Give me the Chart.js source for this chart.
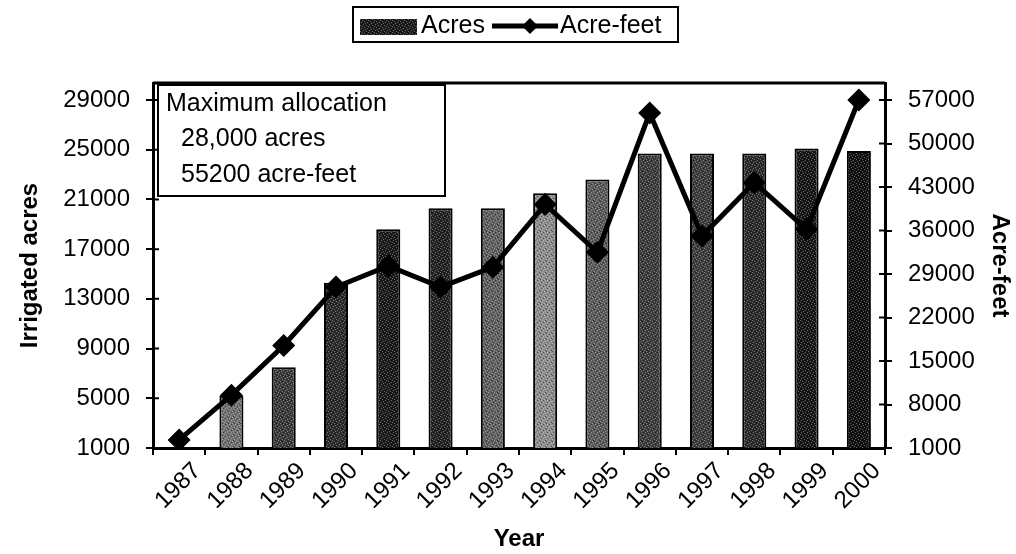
<!DOCTYPE html>
<html>
<head>
<meta charset="utf-8">
<script src="https://cdn.jsdelivr.net/npm/chart.js@4.4.1/dist/chart.umd.min.js"></script>
<style>
  html, body { margin: 0; background: #fff; }
  #wrap { width: 1016px; height: 554px; }
</style>
</head>
<body>
<div id="wrap"><canvas id="chart"></canvas></div>
<script>
const years = ["1987", "1988", "1989", "1990", "1991", "1992", "1993",
               "1994", "1995", "1996", "1997", "1998", "1999", "2000"];
const acres = [1000, 5200, 7500, 14300, 18600, 20300, 20300,
               21500, 22600, 24700, 24700, 24700, 25100, 24900];
const acreFeet = [2300, 9500, 17500, 26900, 30300, 26900, 30100,
                  40200, 32500, 54900, 35100, 43700, 36200, 57000];
const acresTicks = [1000, 5000, 9000, 13000, 17000, 21000, 25000, 29000];
const acreFeetTicks = [1000, 8000, 15000, 22000, 29000, 36000, 43000, 50000, 57000];
const noteLines = ["Maximum allocation", "28,000 acres", "55200 acre-feet"];

// grey shade of each bar (scanned stipple look)
const barShades = ["#444", "#707070", "#3a3a3a", "#2a2a2a", "#1a1a1a", "#222", "#606060",
                   "#8c8c8c", "#5a5a5a", "#3c3c3c", "#3c3c3c", "#2a2a2a", "#161616", "#101010"];

const FONT = "'Liberation Sans', Arial, sans-serif";

function stipple(base) {
  const c = document.createElement("canvas");
  c.width = 6; c.height = 6;
  const g = c.getContext("2d");
  g.fillStyle = base;
  g.fillRect(0, 0, 6, 6);
  g.fillStyle = "rgba(255,255,255,0.35)";
  [[0, 1], [3, 0], [4, 3], [1, 4], [2, 2], [5, 5]].forEach(([x, y]) => g.fillRect(x, y, 1, 1));
  g.fillStyle = "rgba(0,0,0,0.4)";
  [[1, 0], [5, 2], [3, 4], [0, 3]].forEach(([x, y]) => g.fillRect(x, y, 1, 1));
  return g.createPattern(c, "repeat");
}

const extras = {
  id: "extras",
  afterDraw(chart) {
    const { ctx, chartArea: a, scales } = chart;
    ctx.save();
    // top border of plot area
    ctx.strokeStyle = "#000";
    ctx.lineWidth = 3;
    ctx.beginPath();
    ctx.moveTo(a.left, a.top);
    ctx.lineTo(a.right, a.top);
    ctx.stroke();

    // inner halves of the value-axis ticks
    ctx.lineWidth = 2;
    ctx.beginPath();
    scales.y.ticks.forEach(t => {
      const py = scales.y.getPixelForValue(t.value);
      ctx.moveTo(a.left, py); ctx.lineTo(a.left + 6, py);
    });
    scales.y2.ticks.forEach(t => {
      const py = scales.y2.getPixelForValue(t.value);
      ctx.moveTo(a.right, py); ctx.lineTo(a.right - 6, py);
    });
    ctx.stroke();

    // allocation note
    ctx.fillStyle = "#fff";
    ctx.fillRect(158, 85, 287, 111);
    ctx.lineWidth = 2;
    ctx.strokeRect(158, 85, 287, 111);
    ctx.fillStyle = "#000";
    ctx.font = "25px " + FONT;
    ctx.textBaseline = "middle";
    ctx.textAlign = "left";
    ctx.fillText(noteLines[0], 166, 104);
    ctx.fillText(noteLines[1], 181, 139);
    ctx.fillText(noteLines[2], 181, 175);

    // legend
    const ds = chart.data.datasets;
    ctx.lineWidth = 2;
    ctx.strokeRect(353, 7, 325, 35);
    ctx.fillStyle = stipple("#1a1a1a");
    ctx.fillRect(360, 19, 57, 16);
    ctx.fillStyle = "#000";
    ctx.font = "25px " + FONT;
    ctx.fillText(ds[0].label, 421, 26);
    ctx.lineWidth = 5;
    ctx.beginPath();
    ctx.moveTo(492, 26); ctx.lineTo(558, 26);
    ctx.stroke();
    ctx.beginPath();
    ctx.moveTo(530, 18); ctx.lineTo(538, 26); ctx.lineTo(530, 34); ctx.lineTo(522, 26);
    ctx.closePath();
    ctx.fill();
    ctx.fillText(ds[1].label, 560, 26);
    ctx.restore();
  }
};

const tickFont = { family: FONT, size: 24 };
const titleFont = { family: FONT, size: 24, weight: "bold" };

new Chart(document.getElementById("chart").getContext("2d"), {
  data: {
    labels: years,
    datasets: [
      {
        type: "bar",
        label: "Acres",
        data: acres,
        yAxisID: "y",
        backgroundColor: barShades.map(stipple),
        borderColor: "#000",
        borderWidth: 2,
        categoryPercentage: 1,
        barPercentage: 0.46,
        order: 2
      },
      {
        type: "line",
        label: "Acre-feet",
        data: acreFeet,
        yAxisID: "y2",
        borderColor: "#000",
        borderWidth: 5,
        tension: 0,
        pointStyle: "rectRot",
        pointRadius: 8,
        pointBackgroundColor: "#000",
        pointBorderColor: "#000",
        order: 1
      }
    ]
  },
  options: {
    responsive: true,
    maintainAspectRatio: false,
    animation: false,
    layout: { padding: { top: 83, left: 0, right: 0, bottom: 0 } },
    plugins: { legend: { display: false }, tooltip: { enabled: false } },
    scales: {
      x: {
        grid: { offset: true, drawOnChartArea: false, color: "#000", lineWidth: 2, tickLength: 7 },
        border: { color: "#000", width: 3 },
        ticks: { color: "#000", font: { family: FONT, size: 24 }, minRotation: 45, maxRotation: 45,
                 autoSkip: false, padding: 2, labelOffset: 18 },
        title: { display: true, text: "Year", color: "#000", font: titleFont, padding: { top: 0, bottom: 0 } },
        afterFit(s) { s.height = 106; }
      },
      y: {
        position: "left",
        min: 1000,
        max: 30368,
        afterBuildTicks(s) { s.ticks = acresTicks.map(v => ({ value: v })); },
        grid: { drawOnChartArea: false, color: "#000", lineWidth: 2, tickLength: 7 },
        border: { color: "#000", width: 3 },
        ticks: { color: "#000", font: tickFont, padding: 16, callback: v => String(v) },
        title: { display: true, text: "Irrigated acres", color: "#000", font: titleFont, padding: { top: 16, bottom: 0 } },
        afterFit(s) { s.width = 153; }
      },
      y2: {
        position: "right",
        min: 1000,
        max: 59736,
        afterBuildTicks(s) { s.ticks = acreFeetTicks.map(v => ({ value: v })); },
        grid: { drawOnChartArea: false, color: "#000", lineWidth: 2, tickLength: 7 },
        border: { color: "#000", width: 3 },
        ticks: { color: "#000", font: tickFont, padding: 16, callback: v => String(v) },
        title: { display: true, text: "Acre-feet", color: "#000", font: titleFont, padding: { top: 2, bottom: 0 } },
        afterFit(s) { s.width = 131; }
      }
    }
  },
  plugins: [extras]
});
</script>
</body>
</html>
